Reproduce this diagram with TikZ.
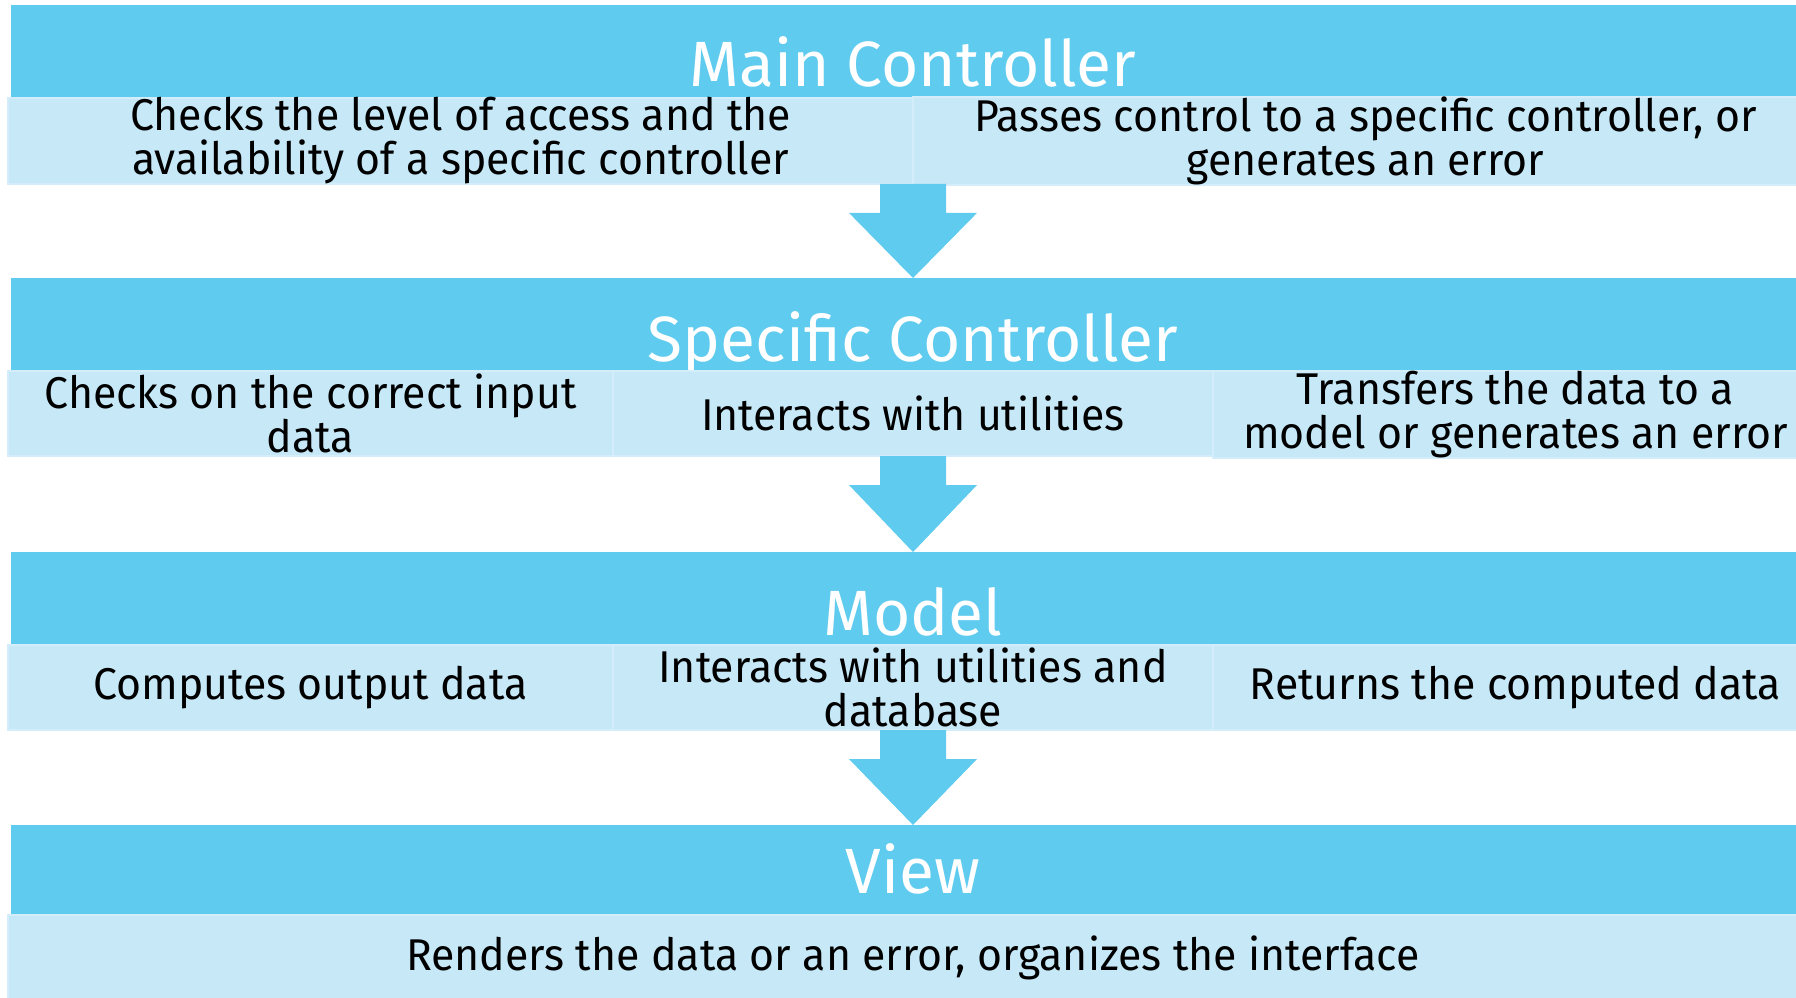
\documentclass[tikz,border=0pt]{standalone}
\usepackage{fontspec}
\setmainfont{Fira Sans}
\newfontfamily\bodyfont{Fira Sans}[FakeStretch=0.962]
\usetikzlibrary{calc}
\definecolor{barblue}{HTML}{5ECBEF}
\definecolor{cellblue}{HTML}{C6E8F7}
\definecolor{cellline}{HTML}{D3EEFA}
\tikzset{
  bar/.style={rectangle, fill=barblue, inner sep=0pt, outer sep=0pt, minimum width=1804pt, minimum height=93pt},
  bartitle/.style={anchor=base, inner sep=0pt, text=white, font=\fontsize{64}{64}\selectfont},
  cell/.style={rectangle, fill=cellblue, draw=cellline, line width=2pt, inner sep=0pt, outer sep=0pt,
    minimum height=85pt, align=center, text=black, font=\bodyfont\fontsize{44.5}{43.5}\selectfont},
  arrowfill/.style={fill=barblue}
}
\newcommand\blockarrow[2]{%
  \fill[arrowfill] ($(#1)+(-33,0)$) -- ($(#1)+(33,0)$) -- ($(#1)+(33,29)$) -- ($(#1)+(64,29)$)
    -- (#2) -- ($(#1)+(-64,29)$) -- ($(#1)+(-33,29)$) -- cycle;}
\begin{document}
\begin{tikzpicture}[x=1pt,y=-1pt]
\useasboundingbox (0,0) rectangle (1796,997);
% bars
\node[bar] (b1) at (913,51.5) {};
\node[bar] (b2) at (913,324.5) {};
\node[bar] (b3) at (913,598.5) {};
\node[bar, minimum height=90pt] (b4) at (913,870) {};
% titles
\node[bartitle] (t1) at (913,86) {Main Controller};
\node[bartitle] (t2) at (913,361) {Specific Controller};
\node[bartitle] (t3) at (913,635) {Model};
\node[bartitle] (t4) at (913,893) {View};
% row 1
\node[cell, minimum width=905pt, minimum height=84.5pt] (c11) at (460.5,140.75) {Checks the level of access and the\\availability of a specific controller};
\node[cell, minimum width=905pt, minimum height=84.5pt] (c12) at (1365.5,140.75) {Passes control to a specific controller, or\\generates an error};
% row 2
\node[cell, minimum width=605pt] (c21) at (310.5,413.5) {Checks on the correct input\\data};
\node[cell, minimum width=600pt] (c22) at (913,413.5) {Interacts with utilities};
\node[cell, minimum width=605pt] (c23) at (1515.5,414.5) {Transfers the data to a\\model or generates an error};
% row 3
\node[cell, minimum width=605pt] (c31) at (310.5,687.5) {Computes output data};
\node[cell, minimum width=600pt] (c32) at (913,687.5) {Interacts with utilities and\\database};
\node[cell, minimum width=605pt] (c33) at (1515.5,687.5) {Returns the computed data};
% row 4
\node[cell, minimum width=1810pt] (c41) at (913,957.5) {Renders the data or an error, organizes the interface};
% arrows
\coordinate (a1) at (c11.south east);
\blockarrow{a1}{b2.north}
\blockarrow{c22.south}{b3.north}
\blockarrow{c32.south}{b4.north}
\end{tikzpicture}
\end{document}
